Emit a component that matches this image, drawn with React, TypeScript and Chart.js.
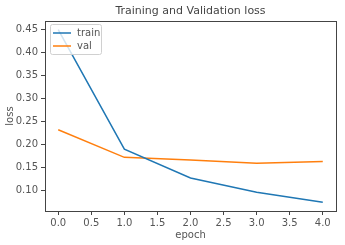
import React, { useEffect, useRef } from "react";
import { Chart, registerables } from "chart.js";

Chart.register(...registerables);

const epochs = [0, 1, 2, 3, 4];
const trainLoss = [0.45, 0.19, 0.127, 0.096, 0.074];
const valLoss = [0.232, 0.172, 0.166, 0.159, 0.163];
const xTicks = [0, 0.5, 1, 1.5, 2, 2.5, 3, 3.5, 4];
const yTicks = [0.1, 0.15, 0.2, 0.25, 0.3, 0.35, 0.4, 0.45];
const seriesNames = ["train", "val"];
const seriesColors = ["#1f77b4", "#ff7f0e"];

const FONT = "DejaVu Sans";
const TEXT = "#555";

const decor = {
  id: "decor",
  afterDraw(chart: any) {
    const { ctx, chartArea: a } = chart;
    ctx.save();
    // frame
    ctx.strokeStyle = "#444";
    ctx.lineWidth = 1;
    ctx.strokeRect(Math.round(a.left) + 0.5, Math.round(a.top) + 0.5, Math.round(a.right - a.left), Math.round(a.bottom - a.top));
    // title
    ctx.fillStyle = "#444";
    ctx.font = `11px '${FONT}'`;
    ctx.textAlign = "center";
    ctx.textBaseline = "bottom";
    ctx.fillText("Training and Validation loss", (a.left + a.right) / 2, a.top - 4);
    // x label
    ctx.fillStyle = TEXT;
    ctx.font = `10px '${FONT}'`;
    ctx.textBaseline = "middle";
    ctx.fillText("epoch", (a.left + a.right) / 2, 235);
    // y label
    ctx.save();
    ctx.translate(10, (a.top + a.bottom) / 2);
    ctx.rotate(-Math.PI / 2);
    ctx.fillText("loss", 0, 0);
    ctx.restore();
    // legend
    const lx = a.left + 5, ly = a.top + 3, lw = 51, lh = 30;
    ctx.fillStyle = "rgba(255,255,255,0.8)";
    ctx.strokeStyle = "#d0d0d0";
    ctx.beginPath();
    (ctx as any).roundRect(lx + 0.5, ly + 0.5, lw, lh, 2);
    ctx.fill();
    ctx.stroke();
    ctx.textAlign = "left";
    ctx.font = `10px '${FONT}'`;
    seriesNames.forEach((n, i) => {
      const y = ly + 9 + i * 13;
      ctx.strokeStyle = seriesColors[i];
      ctx.lineWidth = 1.5;
      ctx.beginPath();
      ctx.moveTo(lx + 3, y);
      ctx.lineTo(lx + 21, y);
      ctx.stroke();
      ctx.fillStyle = TEXT;
      ctx.fillText(n, lx + 27, y);
    });
    ctx.restore();
  },
};

export default function App() {
  const ref = useRef<HTMLCanvasElement>(null);
  useEffect(() => {
    const chart = new Chart(ref.current!, {
      type: "line",
      data: {
        datasets: [
          { label: seriesNames[0], data: epochs.map((e, i) => ({ x: e, y: trainLoss[i] })), borderColor: seriesColors[0], borderWidth: 1.5, pointRadius: 0, tension: 0 },
          { label: seriesNames[1], data: epochs.map((e, i) => ({ x: e, y: valLoss[i] })), borderColor: seriesColors[1], borderWidth: 1.5, pointRadius: 0, tension: 0 },
        ],
      },
      options: {
        animation: false,
        responsive: false,
        layout: { padding: { top: 21, right: 9, left: 0, bottom: 0 } },
        plugins: { legend: { display: false }, tooltip: { enabled: false }, title: { display: false } },
        scales: {
          x: {
            type: "linear",
            min: -0.2,
            max: 4.2,
            afterBuildTicks: (s: any) => { s.ticks = xTicks.map((v) => ({ value: v })); },
            afterFit: (s: any) => { s.height = 34; },
            grid: { drawOnChartArea: false, tickLength: 4, color: "#444", drawTicks: true },
            border: { display: false },
            ticks: { font: { family: FONT, size: 10 }, color: TEXT, padding: 2, maxRotation: 0, autoSkip: false, callback: (v: any) => Number(v).toFixed(1) },
          },
          y: {
            type: "linear",
            min: 0.0552,
            max: 0.4688,
            afterBuildTicks: (s: any) => { s.ticks = yTicks.map((v) => ({ value: v })); },
            afterFit: (s: any) => { s.width = 45; },
            grid: { drawOnChartArea: false, tickLength: 4, color: "#444", drawTicks: true },
            border: { display: false },
            ticks: { font: { family: FONT, size: 10 }, color: TEXT, padding: 3, autoSkip: false, callback: (v: any) => Number(v).toFixed(2) },
          },
        },
      },
      plugins: [decor],
    });
    return () => chart.destroy();
  }, []);
  return (
    <div style={{ position: "fixed", left: 0, top: 0, width: 345, height: 245, background: "#fff" }}>
      <canvas ref={ref} width={345} height={245} />
    </div>
  );
}
